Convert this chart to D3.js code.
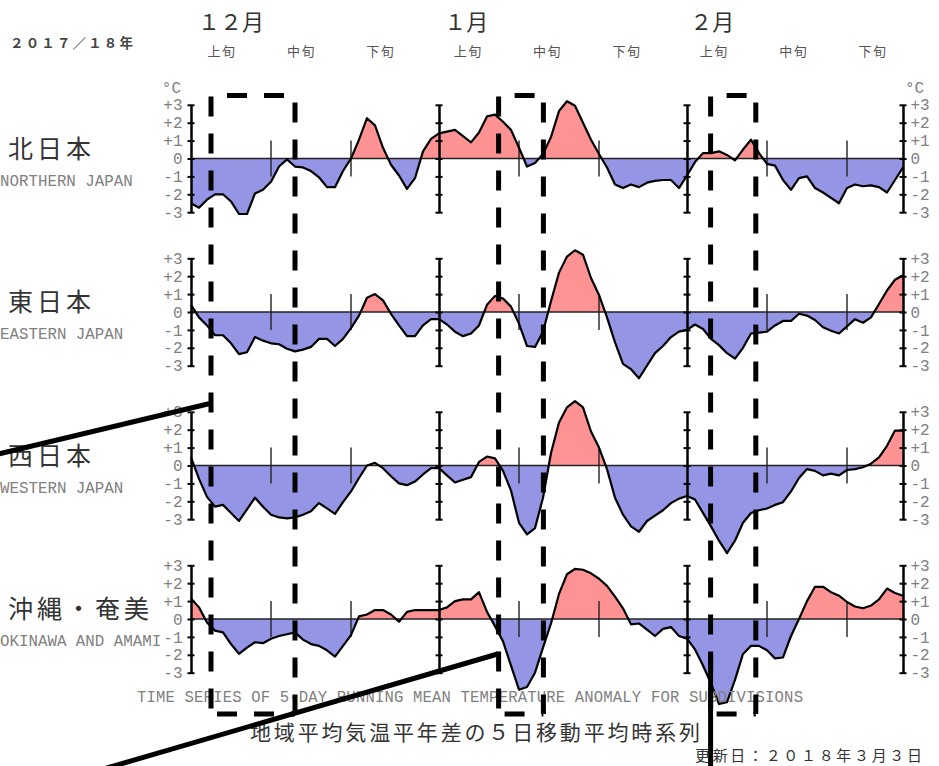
<!DOCTYPE html>
<html><head><meta charset="utf-8">
<script src="https://cdn.jsdelivr.net/npm/d3@7"></script>
<style>
html,body{margin:0;padding:0;background:#fff;}
svg{display:block;}
</style></head><body>
<script>
// ---------- data ----------
const startDate = new Date(2017, 11, 1);
const endDate = new Date(2018, 1, 28);
const yearLabel = "２０１７／１８年";
const monthLabels = ["１２月", "１月", "２月"];
const monthStarts = [new Date(2017, 11, 1), new Date(2018, 0, 1), new Date(2018, 1, 1)];
const dekadLabels = ["上旬", "中旬", "下旬"];
const dekadStartDays = [1, 11, 21];
const yTicks = [3, 2, 1, 0, -1, -2, -3];
const yTickLabels = ["+3", "+2", "+1", "0", "-1", "-2", "-3"];
const regionsJa = ["北日本", "東日本", "西日本", "沖縄・奄美"];
const regionsEn = ["NORTHERN JAPAN", "EASTERN JAPAN", "WESTERN JAPAN", "OKINAWA AND AMAMI"];
const unitLabel = "°C";
const subtitleEn = "TIME SERIES OF 5-DAY RUNNING MEAN TEMPERATURE ANOMALY FOR SUBDIVISIONS";
const titleJa = "地域平均気温平年差の５日移動平均時系列";
const updatedLabel = "更新日：２０１８年３月３日";

const north = [-2.5,-2.75,-2.3,-2.0,-2.0,-2.4,-3.1,-3.1,-1.95,-1.75,
  -1.3,-0.45,-0.05,-0.45,-0.5,-0.7,-1.05,-1.6,-1.6,-0.7,
  0.0,1.05,2.25,1.85,0.6,-0.35,-0.95,-1.7,-1.1,0.4,
  1.1,1.4,1.5,1.6,1.25,0.9,1.45,2.35,2.45,2.05,
  1.6,0.6,-0.45,-0.25,0.25,1.2,2.65,3.2,2.95,2.0,
  1.05,0.25,-0.5,-1.45,-1.65,-1.45,-1.6,-1.35,-1.25,-1.2,
  -1.2,-1.65,-0.95,-0.2,0.3,0.3,0.4,0.2,-0.1,0.5,
  1.05,0.3,-0.3,-0.4,-1.2,-1.75,-1.1,-1.0,-1.65,-1.9,
  -2.2,-2.5,-1.65,-1.45,-1.55,-1.5,-1.6,-1.9,-1.2,-0.5];
const east = [0.4,-0.3,-0.75,-1.3,-1.3,-1.75,-2.35,-2.25,-1.4,-1.6,
  -1.75,-1.8,-2.05,-2.2,-2.1,-1.95,-1.5,-1.5,-1.9,-1.5,
  -0.9,-0.2,0.8,1.0,0.65,-0.1,-0.75,-1.35,-1.35,-0.75,
  -0.4,-0.4,-0.7,-1.1,-1.35,-1.2,-0.75,0.4,0.9,0.75,
  0.3,-0.65,-1.9,-1.95,-1.1,0.6,2.2,3.1,3.45,3.2,
  1.9,0.95,-0.3,-1.7,-2.9,-3.2,-3.7,-3.0,-2.3,-1.9,
  -1.4,-1.1,-1.0,-0.7,-0.95,-1.5,-1.85,-2.3,-2.6,-2.0,
  -1.2,-1.15,-1.1,-0.75,-0.5,-0.5,-0.1,-0.2,-0.45,-0.85,
  -1.05,-1.2,-0.8,-0.4,-0.6,-0.3,0.45,1.2,1.8,2.05];
const west = [0.45,-0.75,-1.75,-2.3,-2.2,-2.65,-3.1,-2.45,-1.8,-2.3,
  -2.75,-2.9,-2.95,-2.9,-2.75,-2.55,-2.1,-2.4,-2.7,-2.05,
  -1.45,-0.7,0.0,0.15,-0.15,-0.6,-1.0,-1.1,-0.9,-0.5,
  -0.15,-0.15,-0.55,-0.95,-0.8,-0.65,0.2,0.5,0.4,-0.3,
  -1.4,-3.2,-3.85,-3.5,-1.8,0.7,2.4,3.25,3.6,3.25,
  1.9,1.0,-0.2,-1.8,-2.75,-3.4,-3.7,-3.1,-2.8,-2.5,
  -2.1,-1.85,-1.7,-1.9,-2.65,-3.4,-4.2,-4.9,-4.2,-3.2,
  -2.65,-2.5,-2.4,-2.2,-2.05,-1.45,-0.7,-0.2,-0.3,-0.55,
  -0.45,-0.55,-0.25,-0.2,-0.1,0.1,0.45,1.1,1.95,1.95];
const okinawa = [1.15,0.65,-0.2,-0.65,-0.75,-1.4,-1.95,-1.6,-1.3,-1.35,
  -1.1,-0.95,-0.85,-0.75,-1.15,-1.4,-1.5,-1.75,-2.1,-1.5,
  -0.9,0.15,0.25,0.5,0.5,0.25,-0.15,0.4,0.5,0.5,
  0.5,0.5,0.65,1.0,1.1,1.1,1.5,0.4,-0.4,-1.25,
  -2.6,-3.95,-3.8,-3.0,-1.6,-0.25,1.4,2.5,2.8,2.75,
  2.55,2.25,1.85,1.25,0.6,-0.3,-0.25,-0.6,-0.95,-0.55,
  -0.45,-0.95,-1.1,-1.7,-2.6,-3.6,-4.75,-4.65,-3.4,-1.95,
  -1.5,-1.5,-1.75,-2.2,-2.15,-0.95,0.0,1.0,1.8,1.8,
  1.5,1.3,0.95,0.7,0.6,0.75,1.1,1.7,1.45,1.3];
const seriesList = [north, east, west, okinawa];
// highlighted periods (day offsets from Dec 1)
const highlightStart = [2.5, 38.45, 64.95];
const highlightEnd = [13, 44.05, 70.6];

// ---------- layout ----------
const W = 939, H = 766;
const posColor = "#ff9393", negColor = "#9595e6";
const mono = "'Liberation Mono', 'DejaVu Sans Mono', monospace";
const cjk = "'Noto Sans CJK JP', sans-serif";

const nDays = d3.timeDay.count(startDate, endDate); // 89
const x = d3.scaleLinear().domain([0, nDays]).range([191, 903]);
const headerX = d3.scaleLinear().domain([0, nDays]).range([222, 222 + nDays * 7.94]);
const dayIdx = d => d3.timeDay.count(startDate, d);

const svg = d3.select("body").append("svg")
  .attr("width", W).attr("height", H);

// header
svg.append("text").attr("x", 10).attr("y", 48).text(yearLabel)
  .attr("font-family", cjk).attr("font-size", 13.5).attr("textLength", 123).attr("lengthAdjust", "spacing")
  .attr("font-weight", 700).attr("fill", "#444");
monthLabels.forEach((m, i) => {
  svg.append("text").attr("x", headerX(dayIdx(monthStarts[i])) - 24).attr("y", 30)
    .text(m).attr("font-family", cjk).attr("font-size", 22).attr("fill", "#333");
  dekadLabels.forEach((dl, j) => {
    const dd = new Date(monthStarts[i].getFullYear(), monthStarts[i].getMonth(), dekadStartDays[j]);
    svg.append("text").attr("x", headerX(dayIdx(dd))).attr("y", 55.5)
      .attr("text-anchor", "middle").text(dl)
      .attr("font-family", cjk).attr("font-size", 13).attr("letter-spacing", 1.5)
      .attr("fill", "#555");
  });
});

// panels
const axisDays = [0, dayIdx(monthStarts[1]), dayIdx(monthStarts[2]), nDays];
const dekadTickDays = [];
monthStarts.forEach(ms => [11, 21].forEach(dd => dekadTickDays.push(dayIdx(new Date(ms.getFullYear(), ms.getMonth(), dd)))));

seriesList.forEach((vals, p) => {
  const zero = 158.5 + p * 153.5;
  const y = d3.scaleLinear().domain([-3, 3]).range([zero + 53.7, zero - 53.7]);
  const g = svg.append("g");

  const defs = g.append("defs");
  defs.append("clipPath").attr("id", "pos" + p).append("rect")
    .attr("x", 0).attr("y", 0).attr("width", W).attr("height", y(0));
  defs.append("clipPath").attr("id", "neg" + p).append("rect")
    .attr("x", 0).attr("y", y(0)).attr("width", W).attr("height", H - y(0));

  const area = d3.area().x((d, i) => x(i)).y0(y(0)).y1(d => y(d));
  g.append("path").datum(vals).attr("d", area).attr("fill", posColor).attr("clip-path", `url(#pos${p})`);
  g.append("path").datum(vals).attr("d", area).attr("fill", negColor).attr("clip-path", `url(#neg${p})`);

  // zero line
  g.append("line").attr("x1", x(0)).attr("x2", x(nDays)).attr("y1", y(0)).attr("y2", y(0))
    .attr("stroke", "#222").attr("stroke-width", 1.6);

  // dekad ticks
  dekadTickDays.forEach(d => {
    g.append("line").attr("x1", x(d)).attr("x2", x(d)).attr("y1", y(1)).attr("y2", y(-1))
      .attr("stroke", "#222").attr("stroke-width", 1.4);
  });

  // data line
  g.append("path").datum(vals)
    .attr("d", d3.line().x((d, i) => x(i)).y(d => y(d)))
    .attr("fill", "none").attr("stroke", "#000").attr("stroke-width", 2.2)
    .attr("stroke-linejoin", "round");

  // vertical axes
  axisDays.forEach((d, k) => {
    const isLeft = k === 0, isRight = k === axisDays.length - 1;
    const aL = d3.axisLeft(y).tickValues(yTicks).tickSizeInner(3.5).tickSizeOuter(0).tickPadding(5)
      .tickFormat(isLeft ? (v => yTickLabels[yTicks.indexOf(v)]) : (() => ""));
    const aR = d3.axisRight(y).tickValues(yTicks).tickSizeInner(3.5).tickSizeOuter(0).tickPadding(4)
      .tickFormat(isRight ? (v => yTickLabels[yTicks.indexOf(v)]) : (() => ""));
    [aL, aR].forEach(a => {
      const ag = g.append("g").attr("transform", `translate(${x(d)},0)`).call(a);
      ag.selectAll("path.domain").attr("stroke", "#000").attr("stroke-width", 2);
      ag.selectAll(".tick line").attr("stroke", "#000").attr("stroke-width", 2);
      ag.selectAll(".tick text").attr("font-family", mono).attr("font-size", 16).attr("fill", "#808080");
    });
  });

  if (p === 0) {
    g.append("text").attr("x", 181).attr("y", 93).attr("text-anchor", "end").text(unitLabel)
      .attr("font-family", mono).attr("font-size", 16).attr("fill", "#808080");
    g.append("text").attr("x", 905).attr("y", 93).text(unitLabel)
      .attr("font-family", mono).attr("font-size", 16).attr("fill", "#808080");
  }

  // region labels
  g.append("text").attr("x", 8).attr("y", zero - 1).text(regionsJa[p])
    .attr("font-family", cjk).attr("font-size", 25).attr("letter-spacing", 4).attr("fill", "#333");
  g.append("text").attr("x", 0).attr("y", zero + 27).text(regionsEn[p])
    .attr("font-family", mono).attr("font-size", 15.8).attr("fill", "#808080");
});

// bottom texts
svg.append("text").attr("x", 137).attr("y", 701.5).text(subtitleEn)
  .attr("font-family", mono).attr("font-size", 15.6).attr("textLength", 666).attr("lengthAdjust", "spacing")
  .attr("fill", "#808080");
svg.append("text").attr("x", 250).attr("y", 740).text(titleJa)
  .attr("font-family", cjk).attr("font-size", 21).attr("textLength", 450).attr("lengthAdjust", "spacing")
  .attr("fill", "#333");
svg.append("text").attr("x", 695).attr("y", 761).text(updatedLabel)
  .attr("font-family", cjk).attr("font-size", 15).attr("textLength", 227).attr("lengthAdjust", "spacing")
  .attr("fill", "#333");

// annotation overlay: dashed boxes
const boxTop = 95.5, boxBottom = 714;
const ann = svg.append("g").attr("stroke", "#000").attr("stroke-width", 5).attr("fill", "none");
highlightStart.forEach((s, i) => {
  const x1 = x(s), x2 = x(highlightEnd[i]);
  const seg = (ax, ay, bx, by, off) => ann.append("line")
    .attr("x1", ax).attr("y1", ay).attr("x2", bx).attr("y2", by)
    .attr("stroke-dasharray", "20 17").attr("stroke-dashoffset", off);
  seg(x1, boxTop, x2, boxTop, 21);
  seg(x1, boxTop + 1, x1, boxBottom, 0);
  seg(x2, boxTop + 1, x2, boxBottom, 31);
  seg(x1, boxBottom, x2, boxBottom, 31);
});
// thick solid pointer lines
const pointers = svg.append("g").attr("stroke", "#000").attr("stroke-width", 5).attr("fill", "none");
pointers.append("line").attr("x1", -10).attr("y1", 456).attr("x2", x(highlightStart[0]) + 1).attr("y2", 403);
pointers.append("line").attr("x1", 100).attr("y1", 770).attr("x2", x(highlightStart[1]) - 1).attr("y2", 654);
pointers.append("line").attr("x1", x(highlightStart[2])).attr("y1", 654).attr("x2", x(highlightStart[2])).attr("y2", 770);
</script>
</body></html>
